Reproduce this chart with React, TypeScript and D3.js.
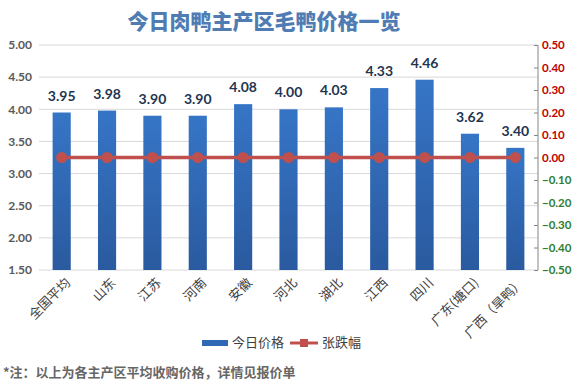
import React, { useEffect, useRef } from 'react'
import * as d3 from 'd3'

const categories = ['全国平均', '山东', '江苏', '河南', '安徽', '河北', '湖北', '江西', '四川', '广东(塘口)', '广西（旱鸭）']
const prices = [3.95, 3.98, 3.9, 3.9, 4.08, 4.0, 4.03, 4.33, 4.46, 3.62, 3.4]
const changes = [0, 0, 0, 0, 0, 0, 0, 0, 0, 0, 0]
const leftTicks = [1.5, 2.0, 2.5, 3.0, 3.5, 4.0, 4.5, 5.0]
const rightTicks = [-0.5, -0.4, -0.3, -0.2, -0.1, 0, 0.1, 0.2, 0.3, 0.4, 0.5]

const CJK = '"Noto Sans CJK SC", "Noto Sans", sans-serif'
const NUM = 'Lato, "Open Sans", sans-serif'

export default function App() {
  const ref = useRef<SVGSVGElement>(null)

  useEffect(() => {
    if (!ref.current) return
    const svg = d3.select(ref.current)
    svg.selectAll('*').remove()

    const margin = { left: 39, right: 36, top: 45, bottom: 119 }
    const W = 574, H = 389
    const width = W - margin.left - margin.right
    const height = H - margin.top - margin.bottom

    const defs = svg.append('defs')
    const grad = defs.append('linearGradient')
      .attr('id', 'barGrad').attr('x1', 0).attr('x2', 0).attr('y1', 0).attr('y2', 1)
    grad.append('stop').attr('offset', '0%').attr('stop-color', '#3675c6')
    grad.append('stop').attr('offset', '100%').attr('stop-color', '#2a5a9f')

    // title
    svg.append('text')
      .attr('x', 264).attr('y', 29)
      .attr('text-anchor', 'middle')
      .attr('font-family', CJK).attr('font-weight', 900).attr('font-size', 21)
      .attr('fill', '#4f7db3')
      .text('今日肉鸭主产区毛鸭价格一览')

    const chart = svg.append('g').attr('transform', `translate(${margin.left},${margin.top})`)

    const x = d3.scaleBand().domain(categories).range([0, width]).paddingInner(0.6).paddingOuter(0.3)
    const y = d3.scaleLinear().domain([1.5, 5]).range([height, 0])
    const y2 = d3.scaleLinear().domain([-0.5, 0.5]).range([height, 0])

    // gridlines
    chart.append('g').selectAll('line').data(leftTicks).join('line')
      .attr('x1', 0).attr('x2', width)
      .attr('y1', d => y(d)).attr('y2', d => y(d))
      .attr('stroke', '#d9d9d9').attr('stroke-width', 1)

    // left axis labels
    const yAxis = d3.axisLeft(y).tickValues(leftTicks).tickFormat(d3.format('.2f')).tickSize(0).tickPadding(7)
    const ga = chart.append('g').call(yAxis)
    ga.select('.domain').remove()
    ga.selectAll('text').attr('font-family', NUM).attr('font-size', 12).attr('font-weight', 700).attr('fill', '#595959')

    // right axis
    const yAxis2 = d3.axisRight(y2).tickValues(rightTicks).tickFormat(d3.format('.2f')).tickSize(-4).tickPadding(4)
    const gr = chart.append('g').attr('transform', `translate(${width},0)`).call(yAxis2)
    gr.select('.domain').attr('stroke', '#868686').attr('d', `M0,0V${height}`)
    gr.selectAll('.tick line').attr('stroke', '#868686')
    gr.selectAll('text')
      .attr('font-family', NUM).attr('font-size', 11.5).attr('font-weight', 700)
      .attr('fill', (d: any) => (d >= 0 ? '#c00000' : '#2e7d32'))

    // bars
    chart.append('g').selectAll('rect').data(prices).join('rect')
      .attr('x', (d, i) => x(categories[i])!)
      .attr('y', d => y(d))
      .attr('width', x.bandwidth())
      .attr('height', d => height - y(d))
      .attr('fill', 'url(#barGrad)')

    // data labels
    chart.append('g').selectAll('text').data(prices).join('text')
      .attr('x', (d, i) => x(categories[i])! + x.bandwidth() / 2)
      .attr('y', d => y(d) - 12)
      .attr('text-anchor', 'middle')
      .attr('font-family', NUM).attr('font-size', 14).attr('font-weight', 700)
      .attr('fill', '#1f3550')
      .text(d => d.toFixed(2))

    // change line
    const line = d3.line<number>()
      .x((d, i) => x(categories[i])! + x.bandwidth() / 2)
      .y(d => y2(d))
    chart.append('path').datum(changes)
      .attr('d', line)
      .attr('fill', 'none').attr('stroke', '#c0504d').attr('stroke-width', 3.5)
    chart.append('g').selectAll('circle').data(changes).join('circle')
      .attr('cx', (d, i) => x(categories[i])! + x.bandwidth() / 2)
      .attr('cy', d => y2(d))
      .attr('r', 5.5)
      .attr('fill', '#c0504d')

    // x labels
    chart.append('g').selectAll('text').data(categories).join('text')
      .attr('transform', d => `translate(${x(d)! + x.bandwidth() / 2 + 7},${height + 11}) rotate(-45)`)
      .attr('text-anchor', 'end')
      .attr('dominant-baseline', 'middle')
      .attr('font-family', CJK).attr('font-size', 13)
      .attr('fill', '#404040')
      .text(d => d)

    // legend
    const lg = svg.append('g').attr('transform', 'translate(202,343)')
    lg.append('rect').attr('x', 0).attr('y', -3).attr('width', 26).attr('height', 6).attr('fill', '#2f68b5')
    lg.append('text').attr('x', 30).attr('y', 0).attr('dominant-baseline', 'middle')
      .attr('font-family', CJK).attr('font-size', 13).attr('fill', '#404040').text('今日价格')
    lg.append('line').attr('x1', 88).attr('x2', 116).attr('y1', 0).attr('y2', 0)
      .attr('stroke', '#c0504d').attr('stroke-width', 3)
    lg.append('rect').attr('x', 98).attr('y', -4).attr('width', 8).attr('height', 8).attr('fill', '#c0504d')
    lg.append('text').attr('x', 120).attr('y', 0).attr('dominant-baseline', 'middle')
      .attr('font-family', CJK).attr('font-size', 13).attr('fill', '#404040').text('张跌幅')

    // footnote
    svg.append('text')
      .attr('x', 3).attr('y', 377)
      .attr('font-family', CJK).attr('font-size', 13).attr('font-weight', 700)
      .attr('fill', '#666666')
      .text('*注：以上为各主产区平均收购价格，详情见报价单')
  }, [])

  return (
    <svg
      ref={ref}
      width={574}
      height={389}
      style={{ position: 'absolute', left: 0, top: 0, background: '#ffffff' }}
    />
  )
}
